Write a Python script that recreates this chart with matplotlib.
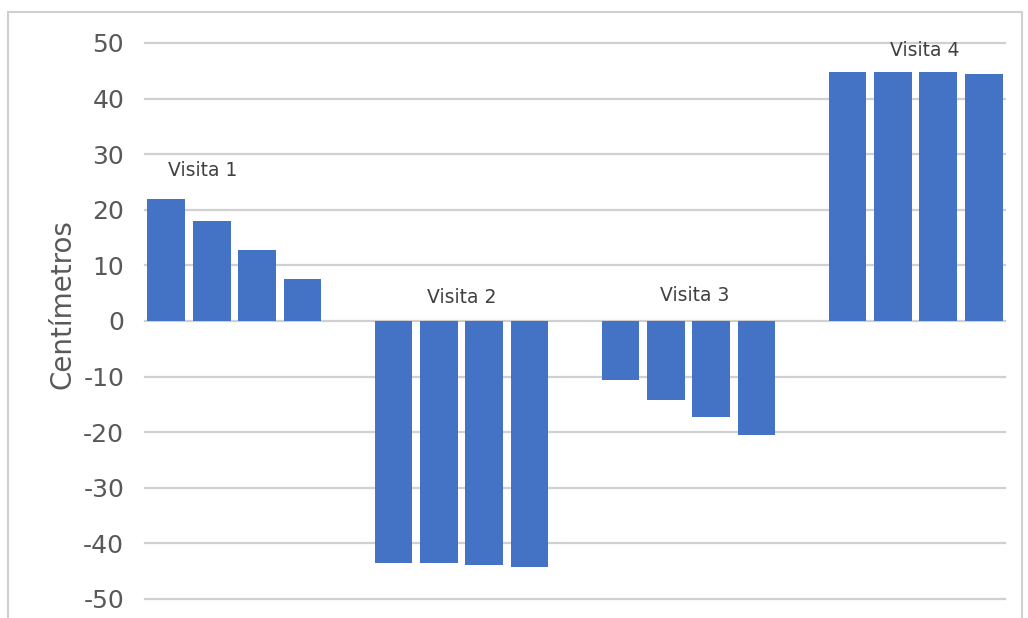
import matplotlib
matplotlib.use("Agg")
import matplotlib.pyplot as plt
from matplotlib.patches import Rectangle

# mediciones por visita (cm), 4 por visita
visitas = ["Visita 1", "Visita 2", "Visita 3", "Visita 4"]
valores = [
    [21.9, 17.9, 12.8, 7.5],
    [-43.5, -43.6, -43.9, -44.2],
    [-10.6, -14.2, -17.3, -20.5],
    [44.8, 44.8, 44.8, 44.5],
]
# posición (x, y) de cada etiqueta de visita
etiqueta_x = [0.8, 6.5, 11.64, 16.7]
etiqueta_y = [27.0, 4.3, 4.5, 48.7]
yticks = list(range(-50, 51, 10))

AZUL = "#4472C4"
GRIS = "#595959"

fig = plt.figure(figsize=(10.28, 6.18), dpi=100)
ax = fig.add_axes([145 / 1028, 1 - 599 / 618, 860 / 1028, 556 / 618])

# marco exterior del gráfico
fig.patches.append(Rectangle((8 / 1028, -0.02), 1014 / 1028, 1 - 12 / 618 + 0.02,
                             transform=fig.transFigure, fill=False,
                             edgecolor="#d0d0d0", lw=1.5))

for t in yticks:
    ax.axhline(t, color="#d0d0d0", lw=1.6, zorder=0, clip_on=False)

for g, vals in enumerate(valores):
    xs = [5 * g + i for i in range(len(vals))]
    ax.bar(xs, vals, width=0.83, color=AZUL, zorder=2)
    ax.text(etiqueta_x[g], etiqueta_y[g], visitas[g], ha="center", va="center",
            fontsize=13.5, color="#404040", zorder=3)

ax.set_xlim(-0.47, 18.47)
ax.set_ylim(-50, 50)
ax.set_yticks(yticks)
ax.set_yticklabels([str(t) for t in yticks], fontsize=18, color=GRIS)
ax.tick_params(axis="y", length=0, pad=15)
ax.set_xticks([])
for s in ax.spines.values():
    s.set_visible(False)
ax.set_ylabel("Centímetros", fontsize=20, color=GRIS)
ax.yaxis.set_label_coords(-0.080, 0.53)

fig.savefig("out.png", dpi=100)
